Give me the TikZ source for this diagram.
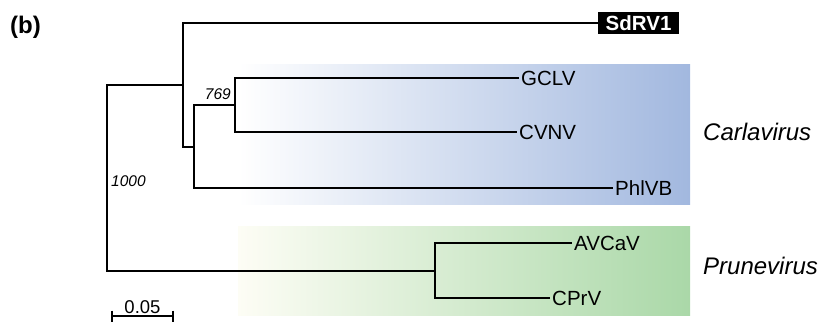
\documentclass[tikz,border=0pt]{standalone}
\usepackage{fontspec}
\setmainfont{Liberation Sans}
\usetikzlibrary{positioning}
\definecolor{carlablue}{RGB}{162,184,223}
\definecolor{prunegreen}{RGB}{170,216,168}
\definecolor{prunepale}{RGB}{253,253,245}

\begin{document}
\begin{tikzpicture}[x=1bp, y=-1bp,
  every node/.style={font=\fontsize{20.5bp}{24bp}\selectfont},
  leaf/.style={anchor=west, inner sep=2bp},
  genus/.style={anchor=west, inner sep=2bp,
                font=\fontsize{24bp}{28bp}\selectfont\itshape},
  boot/.style={inner sep=1bp, font=\fontsize{15.5bp}{18bp}\selectfont\itshape},
  br/.style={line width=1.3bp},
]
\useasboundingbox (0,0) rectangle (830,327);

% --- clade backgrounds
\shade[left color=white, right color=carlablue] (238,64) rectangle (690,204);
\shade[left color=prunepale, right color=prunegreen] (238,226) rectangle (690,315);

% --- panel tag
\node[anchor=west, inner sep=2bp, font=\fontsize{24bp}{28bp}\selectfont\bfseries]
  (tag) at (8,27) {(b)};

% --- internal nodes
\coordinate (root) at (107,178);
\coordinate (n1) at (183,85);
\coordinate (n2) at (194,147);
\coordinate (n3) at (235,105);
\coordinate (n4) at (435,271);

% --- leaves
\node[leaf, fill=black, text=white, font=\fontsize{20.5bp}{24bp}\selectfont\bfseries,
      inner xsep=7.5bp, minimum height=22bp] (sd) at (598,23) {SdRV1};
\node[leaf] (gclv)  at (519,78)  {GCLV};
\node[leaf] (cvnv)  at (517,132) {CVNV};
\node[leaf] (phl)   at (613,188) {PhlVB};
\node[leaf] (avcav) at (572,243) {AVCaV};
\node[leaf] (cprv)  at (550,298) {CPrV};

% --- branches
\draw[br] (n1) -| (root) |- (n4);
\draw[br] (n2) -| (n1) |- (sd.west);
\draw[br] (n3) -| (n2) |- (phl.west);
\draw[br] (gclv.west) -| (n3) |- (cvnv.west);
\draw[br] (avcav.west) -| (n4) |- (cprv.west);

% --- bootstrap values
\node[boot, anchor=south east] (b769) at ([xshift=-3bp, yshift=4bp]n3) {769};
\node[boot, anchor=west] (b1000) at (110,181) {1000};

% --- genus labels
\node[genus] (carla) at (701,132) {Carlavirus};
\node[genus] (prune) at (701,266) {Prunevirus};

% --- scale bar
\coordinate (sb1) at (112,316);
\coordinate (sb2) at (173,316);
\draw[br] (sb1) -- (sb2) node[midway, above=1bp, inner sep=1bp,
  font=\fontsize{18.5bp}{22bp}\selectfont] (sblab) {0.05};
\draw[br] ([yshift=5.5bp]sb1) -- ([yshift=-5.5bp]sb1);
\draw[br] ([yshift=5.5bp]sb2) -- ([yshift=-5.5bp]sb2);
\end{tikzpicture}
\end{document}
